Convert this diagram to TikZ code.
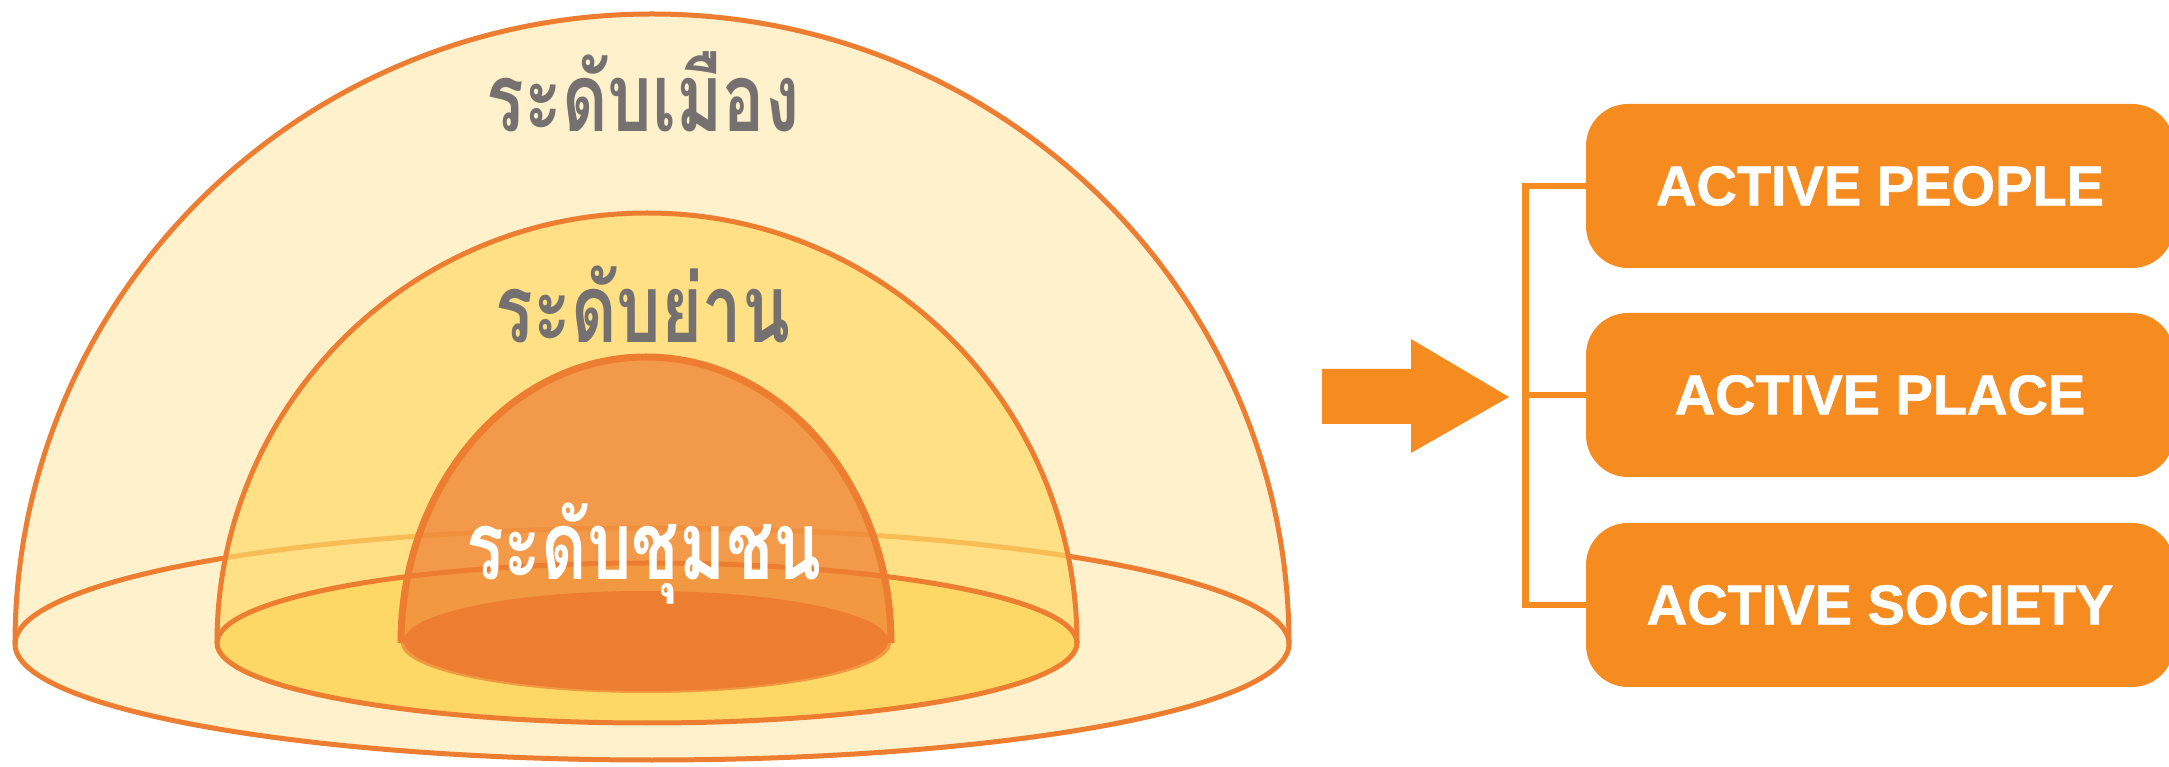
\documentclass[tikz,border=0pt]{standalone}
\usepackage{fontspec}
\setmainfont{Liberation Sans}
\newfontfamily\boxfont{Liberation Sans Bold}[FakeBold=1.2]
\newfontfamily\thaifont[Script=Thai]{Loma}
\definecolor{cream}{HTML}{FFF1CC}
\definecolor{midy}{HTML}{FFD966}
\definecolor{midbase}{HTML}{FDD866}
\definecolor{ornline}{HTML}{ED7D31}
\definecolor{boxor}{HTML}{F68B1F}
\definecolor{thaigrey}{HTML}{767171}
\tikzset{
  domeline/.style={draw=ornline, line width=5pt},
  innerline/.style={draw=ornline, line width=7pt},
  levellabel/.style={font=\thaifont\bfseries\fontsize{95}{95}\selectfont, anchor=base, inner sep=0pt},
  actbox/.style={fill=boxor, rounded corners=42pt, minimum width=588pt, minimum height=164pt,
    text=white, font=\boxfont\fontsize{56}{56}\selectfont, inner sep=0pt},
  bracketline/.style={draw=boxor, line width=6.5pt, line join=miter},
}
\begin{document}
\begin{tikzpicture}[x=1pt,y=1pt]
\useasboundingbox (0,0) rectangle (2169,766);
\clip (0,0) rectangle (2169,766);
% outer dome
\fill[cream] (15,122) arc[start angle=180,end angle=0,x radius=637,y radius=630]
  arc[start angle=0,end angle=-180,x radius=637,y radius=116] -- cycle;
\draw[domeline] (15,122) arc[start angle=180,end angle=0,x radius=637,y radius=630];
\draw[domeline] (652,122) ellipse[x radius=637,y radius=116];
% middle dome
\fill[midy, fill opacity=0.7] (217,123) arc[start angle=180,end angle=0,x radius=430,y radius=430]
  arc[start angle=0,end angle=-180,x radius=430,y radius=80] -- cycle;
\fill[midbase] (647,123) ellipse[x radius=430,y radius=80];
\draw[domeline] (217,123) arc[start angle=180,end angle=0,x radius=430,y radius=430];
\draw[domeline] (647,123) ellipse[x radius=430,y radius=80];
% inner dome
\fill[ornline, fill opacity=0.7] (401,123) arc[start angle=180,end angle=0,x radius=245,y radius=286]
  arc[start angle=0,end angle=-180,x radius=245,y radius=50] -- cycle;
\fill[ornline] (646,125) ellipse[x radius=242,y radius=50];
\draw[innerline] (401,123) arc[start angle=180,end angle=0,x radius=245,y radius=286];
% labels
\node[levellabel, text=thaigrey] (city) at (643,634) {\scalebox{0.74}[1]{ระดับเมือง}};
\node[levellabel, text=thaigrey] (district) at (643,423) {\scalebox{0.74}[1]{ระดับย่าน}};
\node[levellabel, text=white] (community) at (644,186) {\scalebox{0.74}[1]{ระดับชุมชน}};
% arrow
\fill[boxor] (1322,397) -- (1411,397) -- (1411,427) -- (1509,369) -- (1411,313) -- (1411,342) -- (1322,342) -- cycle;
% boxes
\node[actbox] (people) at (1880,580) {ACTIVE PEOPLE};
\node[actbox] (place) at (1880,371) {ACTIVE PLACE};
\node[actbox] (society) at (1880,161) {ACTIVE SOCIETY};
\coordinate (bx) at (1525.5,371);
\draw[bracketline] (people.west) -- (people.west -| bx) -- (society.west -| bx) -- (society.west);
\draw[bracketline] (bx) -- (place.west);
\end{tikzpicture}
\end{document}
